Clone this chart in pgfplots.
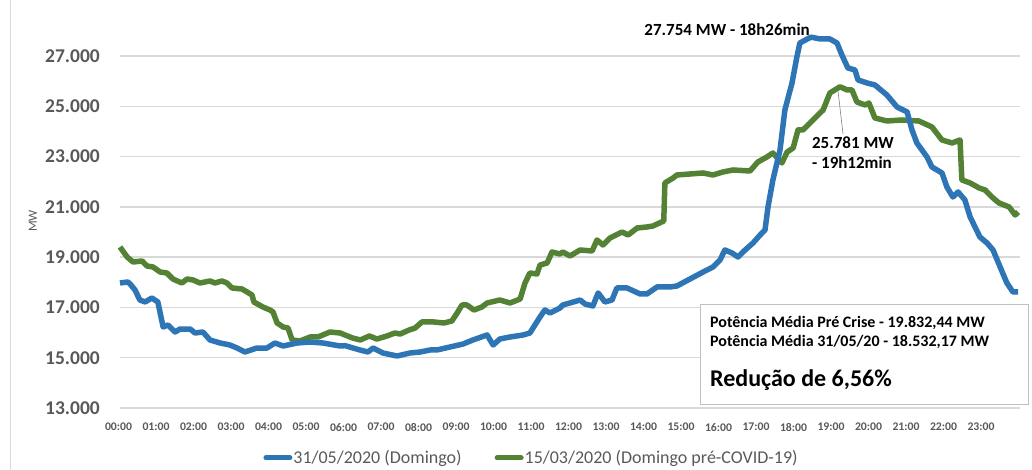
\documentclass[border=0pt]{standalone}
\usepackage{pgfplots}
\pgfplotsset{compat=1.18}
\usepackage{fontspec}
\setmainfont{Carlito}
\definecolor{blueline}{HTML}{2E75B6}
\definecolor{greenline}{HTML}{548235}
\definecolor{txtgray}{HTML}{595959}
\definecolor{gridgray}{HTML}{D9D9D9}
\definecolor{boxgray}{HTML}{BFBFBF}

\begin{document}
\begin{tikzpicture}[x=1pt,y=1pt]
\path[use as bounding box] (0,0) rectangle (1032,470);
\draw[gridgray, line width=1pt] (10,0) -- (10,470);
\begin{axis}[
  at={(120pt,62pt)}, anchor=south west,
  scale only axis, width=900pt, height=377pt,
  xmin=0, xmax=24, ymin=13000, ymax=28000,
  scaled y ticks=false, scaled x ticks=false,
  xtick={0,1,...,23},
  xticklabels={00:00,01:00,02:00,03:00,04:00,05:00,06:00,07:00,08:00,09:00,10:00,11:00,12:00,13:00,14:00,15:00,16:00,17:00,18:00,19:00,20:00,21:00,22:00,23:00},
  ytick={13000,15000,17000,19000,21000,23000,25000,27000},
  yticklabels={13.000,15.000,17.000,19.000,21.000,23.000,25.000,27.000},
  ymajorgrids, grid style={gridgray, line width=1.4pt},
  axis line style={draw=none}, major tick length=0pt,
  xticklabel style={font=\fontsize{11.7}{13}\selectfont\bfseries, text=txtgray, anchor=north, inner sep=0pt, yshift=-15pt, xshift=-1.5pt},
  yticklabel style={font=\fontsize{19.5}{21}\selectfont\bfseries, text=txtgray, anchor=east, inner sep=0pt, xshift=-20pt},
  ylabel={MW},
  ylabel style={font=\fontsize{12.5}{14}\selectfont, text=txtgray, at={(axis description cs:-0.0967,0.496)}, anchor=center},
  clip=false,
  legend style={at={(axis description cs:0.4567,-0.1326)}, anchor=center, draw=none, fill=none,
    font=\fontsize{18}{20}\selectfont, text=txtgray, inner sep=0pt,
    nodes={inner sep=1pt}, /tikz/every even column/.append style={column sep=32pt}},
  legend columns=2,
  legend image code/.code={\draw[#1, line width=5pt, line cap=round] (0pt,0pt) -- (24pt,0pt);},
]
\addlegendimage{blueline}
\addlegendentry{31/05/2020 (Domingo)}
\addlegendimage{greenline}
\addlegendentry{15/03/2020 (Domingo pré-COVID-19)}

% 15/03/2020 (green)
\addplot[greenline, line width=5.5pt, line join=round, forget plot] coordinates {
(0,19406) (0.19,19008) (0.35,18809) (0.59,18849) (0.72,18650) (0.88,18610) (1.07,18411) (1.25,18371)
(1.41,18133) (1.65,17974) (1.79,18133) (1.95,18093) (2.13,17974) (2.4,18054) (2.53,17974) (2.72,18054)
(2.85,17974) (2.99,17775) (3.25,17735) (3.39,17616) (3.52,17496) (3.57,17218) (3.81,17019) (4.0,16899)
(4.08,16820) (4.19,16382) (4.35,16223) (4.48,16183) (4.59,15706) (4.8,15666) (5.07,15825) (5.28,15825)
(5.6,16024) (5.87,15984) (6.2,15785) (6.41,15706) (6.65,15865) (6.85,15745) (7.12,15865) (7.33,15984)
(7.47,15944) (7.71,16103) (7.87,16183) (8.05,16422) (8.37,16422) (8.64,16382) (8.85,16462) (8.99,16780)
(9.12,17098) (9.25,17098) (9.44,16899) (9.65,17019) (9.79,17178) (10.13,17297) (10.4,17178) (10.67,17337)
(10.8,17974) (10.93,18371) (11.12,18332) (11.2,18690) (11.39,18769) (11.52,19207) (11.73,19127) (11.81,19207)
(12.0,19048) (12.27,19287) (12.59,19247) (12.72,19685) (12.88,19486) (13.07,19765) (13.39,20003) (13.55,19883)
(13.79,20162) (14.05,20202) (14.21,20241) (14.5,20440) (14.53,21953) (14.75,22152) (14.85,22271) (15.2,22311)
(15.55,22351) (15.81,22271) (16.08,22391) (16.35,22470) (16.8,22430) (17.01,22788) (17.25,22987) (17.41,23146)
(17.65,22749) (17.79,23186) (17.95,23345) (18.08,24062) (18.21,24062) (18.48,24459) (18.75,24857) (18.93,25534)
(19.2,25781) (19.39,25653) (19.52,25653) (19.65,25176) (19.87,25056) (19.97,25136) (20.13,24539) (20.45,24420)
(20.85,24459) (21.3,24420) (21.65,24181) (21.92,23664) (22.19,23544) (22.4,23664) (22.45,22072) (22.67,21953)
(22.91,21754) (23.07,21674) (23.25,21396) (23.44,21157) (23.71,20998) (23.87,20680) (23.95,20799)
};

% 31/05/2020 (blue)
\addplot[blueline, line width=5.5pt, line join=round, forget plot] coordinates {
(0,17974) (0.21,18014) (0.27,17934) (0.40,17695) (0.53,17297) (0.67,17218) (0.85,17377) (1.01,17218)
(1.15,16223) (1.28,16303) (1.47,16024) (1.6,16143) (1.87,16143) (2.0,15984) (2.21,16024) (2.4,15706)
(2.67,15586) (2.93,15507) (3.12,15387) (3.33,15228) (3.65,15387) (3.92,15387) (4.13,15586) (4.35,15467)
(4.72,15586) (5.07,15626) (5.41,15586) (5.87,15467) (6.0,15480) (6.4,15308) (6.61,15228) (6.75,15387)
(7.01,15188) (7.39,15069) (7.73,15188) (8.0,15228) (8.27,15308) (8.45,15308) (8.8,15427) (9.15,15547)
(9.41,15706) (9.79,15905) (9.95,15507) (10.13,15745) (10.4,15825) (10.75,15905) (10.93,15984) (11.2,16621)
(11.33,16899) (11.47,16780) (11.73,16979) (11.81,17098) (12.27,17297) (12.4,17138) (12.61,17059) (12.75,17576)
(12.93,17218) (13.12,17297) (13.25,17775) (13.52,17775) (13.87,17536) (14.05,17536) (14.32,17815) (14.67,17815)
(14.85,17854) (15.2,18133) (15.55,18411) (15.81,18610) (16.0,18889) (16.13,19287) (16.32,19167) (16.48,19008)
(16.67,19287) (16.88,19565) (17.07,19883) (17.2,20082) (17.28,20998) (17.41,22072) (17.6,23266) (17.73,24857)
(17.92,25932) (18.05,26966) (18.13,27523) (18.35,27700) (18.43,27754) (18.67,27683) (18.93,27683) (19.12,27523)
(19.25,27046) (19.41,26529) (19.6,26449) (19.68,26051) (19.92,25932) (20.13,25852) (20.45,25454) (20.72,24977)
(20.99,24778) (21.12,24062) (21.25,23544) (21.52,22987) (21.65,22590) (21.92,22351) (22.05,21794) (22.21,21396)
(22.35,21595) (22.53,21276) (22.67,20600) (22.93,19804) (23.12,19565) (23.28,19287) (23.47,18610) (23.65,17974)
(23.81,17616) (23.95,17616)
};

\node[font=\fontsize{17}{20}\selectfont\bfseries, anchor=center] at (axis cs:16.19,28041) {27.754 MW - 18h26min};
\draw[gray, line width=0.6pt] (axis cs:19.15,25574) -- (axis cs:19.28,23902);
\node[font=\fontsize{17}{20}\selectfont\bfseries, anchor=north west, align=left, inner sep=0pt] at (axis cs:18.45,23783) {25.781 MW\\- 19h12min};
\end{axis}

\draw[boxgray, fill=white, line width=1pt] (700,165) rectangle (1028,65);
\node[font=\fontsize{16}{18}\selectfont\bfseries, anchor=west, inner sep=0pt] at (710,147) {Potência Média Pré Crise - 19.832,44 MW};
\node[font=\fontsize{16}{18}\selectfont\bfseries, anchor=west, inner sep=0pt] at (710,128) {Potência Média 31/05/20 - 18.532,17 MW};
\node[font=\fontsize{24}{26}\selectfont\bfseries, anchor=west, inner sep=0pt] at (710,90) {Redução de 6,56\%};
\end{tikzpicture}
\end{document}
